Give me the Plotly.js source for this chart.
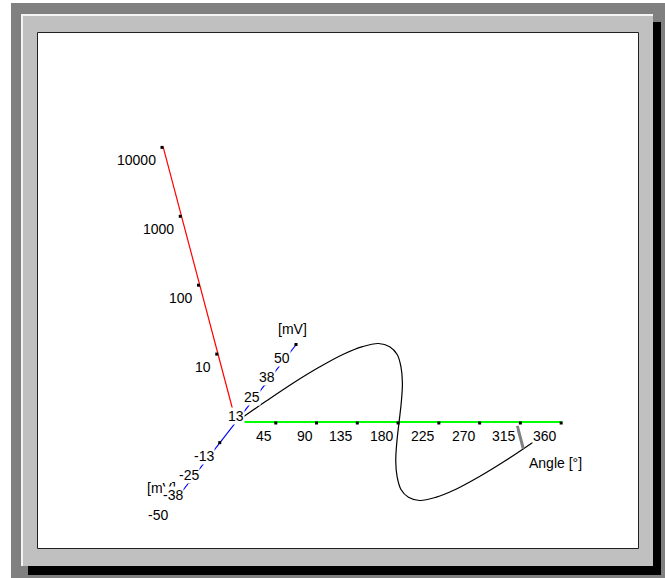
<!DOCTYPE html>
<html>
<head>
<meta charset="utf-8">
<script src="https://cdn.plot.ly/plotly-3.0.1.min.js"></script>
<style>html,body{margin:0;padding:0;background:#fff;}#chart{width:665px;height:578px;}</style>
</head>
<body>
<div id="chart"></div>
<script>
// ---- data ----
const angleTicks = [45, 90, 135, 180, 225, 270, 315, 360];
const angleTickLabels = ['45', '90', '135', '180', '225', '270', '315', '360'];
const mvTicks = [12.5, 25, 37.5, 50, -12.5, -25, -37.5, -50];
const mvTickLabels = ['13', '25', '38', '50', '-13', '-25', '-38', '-50'];
const logTicks = [10, 100, 1000, 10000];
const logTickLabels = ['10', '100', '1000', '10000'];
const angleRange = [0, 360];
const mvRange = [-50, 50];
const logRange = [1, 10000];
const curveAngle = [0, 15, 30, 45, 60, 75, 90, 105, 120, 135, 150, 165, 180, 195, 210, 225, 240, 255, 270, 285, 300, 315, 330, 345];
const curveMv    = [0, 13, 25, 35, 43, 48, 50, 48, 43, 35, 25, 13, 0, -13, -25, -35, -43, -48, -50, -48, -43, -35, -25, -13];
const curveVal   = curveAngle.map(() => 1);
const cursorAngle = 340;
const cursorMv = -17;
const cursorVal = [1, 2.15];

// ---- oblique projection (pixel space) ----
const O = [236, 422];
const A = [0.906, 0];
const M = [1.22, -1.57];
const L = [-18.25, -68.9];
function proj(ang, mv, val) {
  const d = Math.log10(val);
  return [O[0] + A[0] * ang + M[0] * mv + L[0] * d, O[1] + A[1] * ang + M[1] * mv + L[1] * d];
}
function line(pts, color, width) {
  return {type: 'scatter', mode: 'lines', x: pts.map(p => p[0]), y: pts.map(p => p[1]),
    line: {color: color, width: width}, hoverinfo: 'skip', showlegend: false};
}

const traces = [];
// axes
traces.push(line(angleRange.map(a => proj(a, 0, 1)), '#00ff00', 2));
traces.push(line(logRange.map(v => proj(0, 0, v)), '#ff0000', 1.2));
traces.push(line(mvRange.map(m => proj(0, m, 1)), '#0000ff', 1.2));
// curve
const cp = curveAngle.map((a, i) => proj(a, curveMv[i], curveVal[i]));
traces.push({type: 'scatter', mode: 'lines', x: cp.map(p => p[0]), y: cp.map(p => p[1]),
  line: {color: '#000000', width: 1.2, shape: 'spline', smoothing: 1}, hoverinfo: 'skip', showlegend: false});
// cursor
traces.push(line(cursorVal.map(v => proj(cursorAngle, cursorMv, v)), '#808080', 3));
// tick marks
const tickPts = [].concat(
  angleTicks.map(a => proj(a, 0, 1)),
  mvTicks.map(m => proj(0, m, 1)),
  logTicks.map(v => proj(0, 0, v))
);
traces.push({type: 'scatter', mode: 'markers', x: tickPts.map(p => p[0] - 1), y: tickPts.map(p => p[1] + 1),
  marker: {symbol: 'square', size: 3, color: '#000000'}, hoverinfo: 'skip', showlegend: false});

// ---- labels ----
const FONT = {family: '"Liberation Sans", Arial, sans-serif', size: 14, color: '#000000'};
function lab(p, text, dx, dy, xanchor) {
  return {x: p[0] + dx, y: p[1] + dy, xref: 'x', yref: 'y', text: text, showarrow: false,
    xanchor: xanchor || 'right', yanchor: 'middle', font: FONT, bgcolor: '#ffffff', borderpad: 0};
}
const ann = [];
ann.push(lab(proj(0, -50, 1), '[mV]', 2, -13, 'right'));
ann.push(lab(proj(0, 50, 1), '[mV]', -5, -15, 'center'));
angleTicks.forEach((a, i) => ann.push(lab(proj(a, 0, 1), angleTickLabels[i], -4, 14)));
logTicks.forEach((v, i) => ann.push(lab(proj(0, 0, v), logTickLabels[i], -6, 14)));
mvTicks.forEach((m, i) => ann.push(lab(proj(0, m, 1), mvTickLabels[i], -6, 14)));
ann.push(lab(proj(360, 0, 1), 'Angle [°]', -7, 41, 'center'));

// ---- frame ----
const shapes = [
  {type: 'rect', xref: 'x', yref: 'y', x0: 11, x1: 665, y0: 3, y1: 578, fillcolor: '#808080', line: {width: 0}, layer: 'below'},
  {type: 'rect', xref: 'x', yref: 'y', x0: 28, x1: 661, y0: 22, y1: 575, fillcolor: '#000000', line: {width: 0}, layer: 'below'},
  {type: 'rect', xref: 'x', yref: 'y', x0: 21, x1: 653, y0: 14, y1: 566, fillcolor: '#c0c0c0', line: {width: 0}, layer: 'below'},
  {type: 'line', xref: 'x', yref: 'y', x0: 21, x1: 653, y0: 15, y1: 15, line: {color: '#f4f4f4', width: 2}, layer: 'below'},
  {type: 'line', xref: 'x', yref: 'y', x0: 22, x1: 22, y0: 14, y1: 566, line: {color: '#f4f4f4', width: 2}, layer: 'below'},
  {type: 'rect', xref: 'x', yref: 'y', x0: 37.5, x1: 638.5, y0: 32.5, y1: 548.5, fillcolor: '#ffffff', line: {color: '#202020', width: 1}, layer: 'below'}
];

const layout = {
  width: 665, height: 578,
  margin: {l: 0, r: 0, t: 0, b: 0, pad: 0},
  paper_bgcolor: '#ffffff', plot_bgcolor: 'rgba(0,0,0,0)',
  xaxis: {range: [0, 665], visible: false, fixedrange: true},
  yaxis: {range: [578, 0], visible: false, fixedrange: true},
  showlegend: false,
  shapes: shapes,
  annotations: ann
};
Plotly.newPlot('chart', traces, layout, {displayModeBar: false, staticPlot: true});
</script>
</body>
</html>
